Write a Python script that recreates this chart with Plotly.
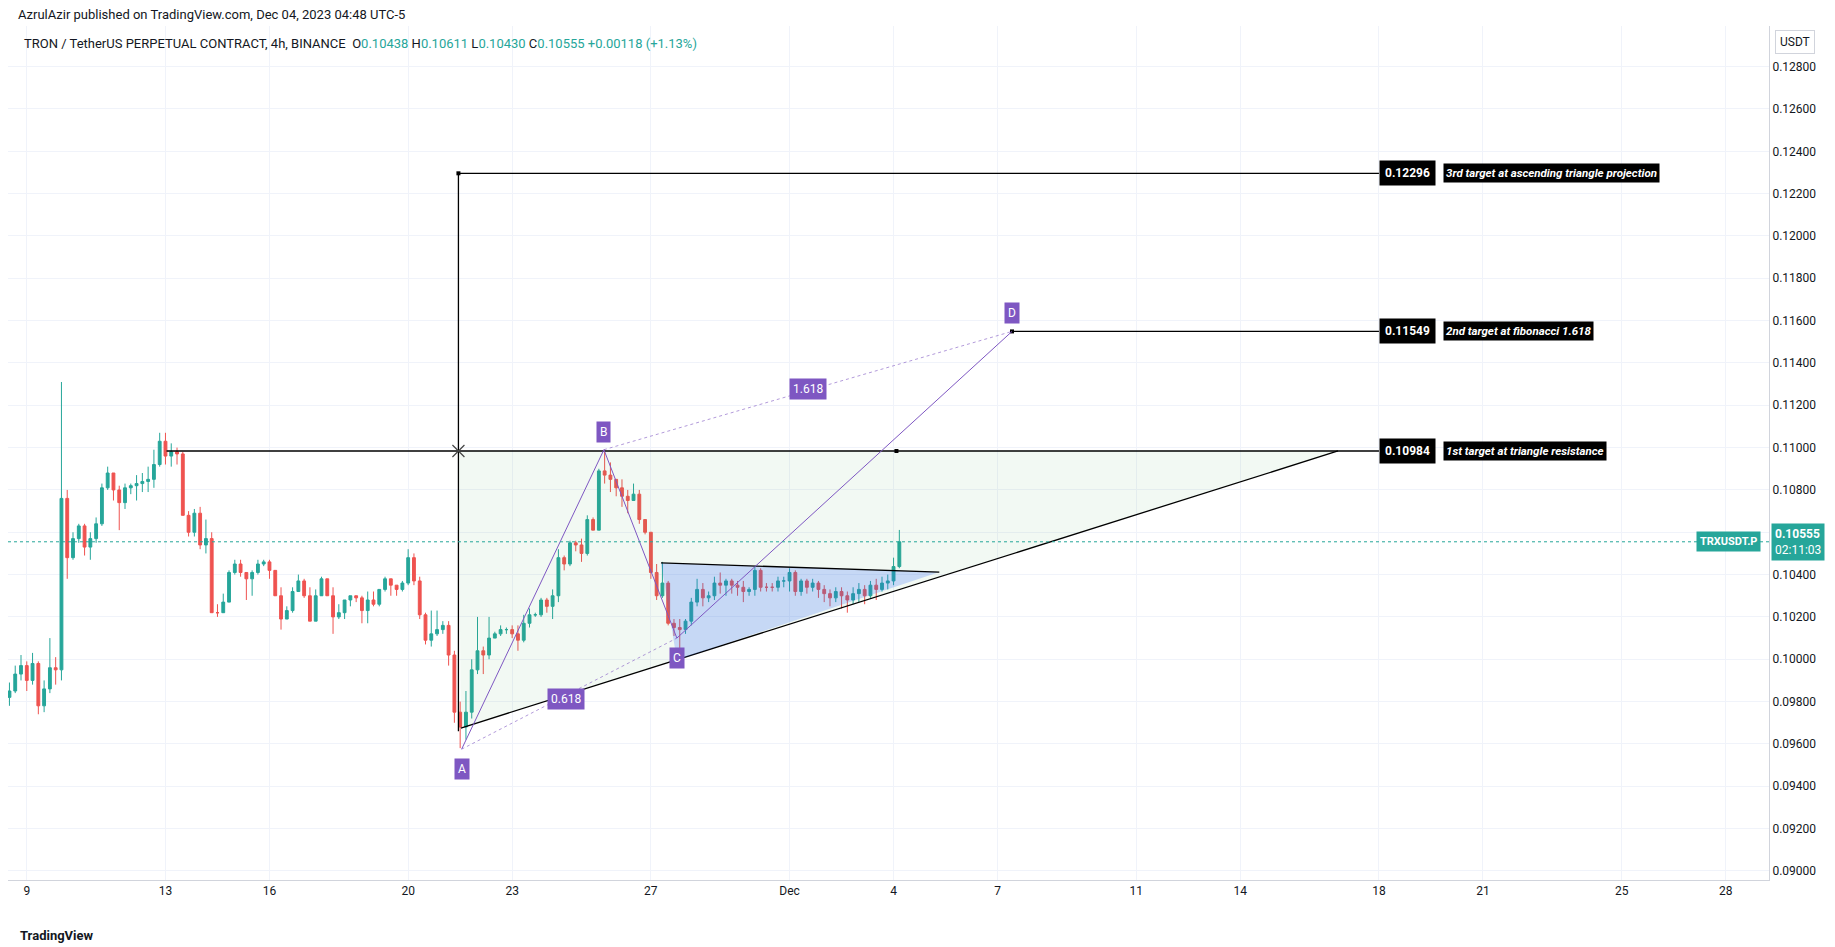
import plotly.graph_objects as go
import pandas as pd

# ---------------- data (4h candles from 2023-11-08 12:00) ----------------
close = [.0985,.0993,.0997,
 .0990,.0998,.0978,.0986,.0996,.0995,
 .1076,.1048,.1057,.1063,.1053,.1057,
 .1064,.1081,.1088,.1080,.1074,.1081,
 .1082,.1083,.1084,.1085,.1092,.1103,
 .1096,.1098,.1097,.1068,.1060,.1069,
 .1054,.1057,.1022,.1022,.1027,.1041,
 .1045,.1041,.1038,.1041,.1045,.1046,
 .1042,.1030,.1019,.1023,.1032,.1037,
 .1030,.1018,.1030,.1038,.1030,.1020,
 .1022,.1028,.1030,.1029,.1023,.1028,
 .1026,.1033,.1038,.1035,.1033,.1036,
 .1048,.1037,.1021,.1009,.1012,.1014,
 .1016,.1002,.0975,.0968,.0975,.0995,
 .1004,.1002,.1010,.1012,.1014,.1014,
 .1012,.1009,.1017,.1021,.1021,.1028,
 .1025,.1030,.1048,.1045,.1055,.1054,
 .1050,.1066,.1061,.1089,.1087,.1085,
 .1081,.1077,.1075,.1078,.1066,.1060,
 .1041,.1030,.1036,.1017,.1015,.1014,
 .1018,.1027,.1033,.1029,.1030,.1036,
 .1035,.1037,.1035,.1034,.1032,.1033,
 .1042,.1034,.1034,.1034,.1037,.1037,
 .1041,.1032,.1037,.1034,.1036,.1033,
 .1031,.1029,.1032,.1030,.1028,.1031,
 .1033,.1030,.1035,.1033,.1036,.1037,
 .10438,.10555]
high = [.0989,.0997,.1002,
 .0999,.1003,.0999,.0990,.1010,.1001,
 .1131,.1080,.1060,.1064,.1064,.1060,
 .1067,.1083,.1091,.1088,.1082,.1083,
 .1083,.1087,.1088,.1091,.1099,.1107,
 .1107,.1102,.1100,.1098,.1070,.1071,
 .1072,.1066,.1060,.1026,.1031,.1042,
 .1047,.1047,.1041,.1042,.1047,.1047,
 .1047,.1042,.1034,.1025,.1034,.1040,
 .1038,.1034,.1033,.1039,.1038,.1034,
 .1026,.1028,.1030,.1030,.1030,.1032,
 .1032,.1033,.1039,.1038,.1035,.1037,
 .1052,.1050,.1039,.1022,.1023,.1023,
 .1018,.1018,.1004,.0980,.0985,.1000,
 .1020,.1006,.1020,.1013,.1016,.1015,
 .1016,.1016,.1021,.1024,.1022,.1029,
 .1029,.1033,.1052,.1049,.1056,.1056,
 .1057,.1068,.1067,.1090,.1099,.1093,
 .1085,.1085,.1080,.1083,.1080,.1066,
 .1060,.1045,.1046,.1037,.1019,.1019,
 .1019,.1029,.1038,.1036,.1032,.1039,
 .1041,.1038,.1038,.1037,.1037,.1034,
 .1044,.1043,.1036,.1036,.1039,.1039,
 .1043,.1042,.1038,.1038,.1038,.1037,
 .1035,.1033,.1034,.1034,.1032,.1034,
 .1036,.1035,.1037,.1038,.1039,.1040,
 .1048,.10611]
low = [.0978,.0984,.0990,
 .0985,.0988,.0974,.0975,.0984,.0988,
 .0990,.1038,.1047,.1055,.1049,.1047,
 .1055,.1063,.1080,.1075,.1061,.1071,
 .1078,.1075,.1079,.1079,.1081,.1091,
 .1092,.1091,.1092,.1068,.1058,.1058,
 .1052,.1050,.1022,.1020,.1025,.1027,
 .1040,.1039,.1028,.1030,.1040,.1044,
 .1038,.1030,.1014,.1020,.1022,.1036,
 .1029,.1018,.1018,.1031,.1030,.1012,
 .1019,.1019,.1025,.1027,.1017,.1017,
 .1025,.1025,.1032,.1030,.1030,.1032,
 .1035,.1035,.1019,.1007,.1006,.1011,
 .1012,.0997,.0970,.0958,.0962,.0972,
 .0993,.0993,.1000,.1010,.1011,.1012,
 .1010,.1004,.1008,.1015,.1020,.1020,
 .1022,.1019,.1027,.1042,.1044,.1051,
 .1046,.1049,.1061,.1061,.1083,.1079,
 .1077,.1072,.1069,.1075,.1064,.1059,
 .1038,.1028,.1029,.1016,.1011,.1005,
 .1012,.1016,.1025,.1025,.1027,.1028,
 .1031,.1030,.1031,.1030,.1027,.1030,
 .1030,.1032,.1032,.1032,.1032,.1034,
 .1032,.1030,.1030,.1031,.1032,.1029,
 .1027,.1025,.1027,.1024,.1022,.1026,
 .1027,.1026,.1029,.1028,.1032,.1033,
 .1035,.10430]
first_open = 0.0982
open_ = [first_open] + close[:-1]
open_[-1] = 0.10438
times = pd.date_range("2023-11-08 12:00", periods=len(close), freq="4h")

last_price = 0.10555
targets = [0.10984, 0.11549, 0.12296]
target_texts = ["1st target at triangle resistance", "2nd target at fibonacci 1.618",
                "3rd target at ascending triangle projection"]

# pattern points
A = ("2023-11-21 13:00", 0.09575)
B = ("2023-11-25 15:30", 0.10990)
C = ("2023-11-27 18:00", 0.10100)
D = ("2023-12-07 10:00", 0.11549)
big_tri_x = ["2023-11-21 10:48", "2023-12-16 19:40", "2023-11-21 12:30"]
big_tri_y = [0.10984, 0.10984, 0.09675]
small_tri_x = ["2023-11-27 07:00", "2023-12-05 07:40", "2023-11-27 18:00"]
small_tri_y = [0.10455, 0.10412, 0.09997]
res_start = "2023-11-13 00:45"
vert_x = "2023-11-21 10:48"
label_x = "2023-12-18 00:00"
label2_x = "2023-12-19 20:00"
mark_x = "2023-12-04 02:00"

GREEN, RED, PURPLE = "#26a69a", "#ef5350", "#7e57c2"
FONT = "Roboto"

fig = go.Figure()
fig.add_trace(go.Scatter(x=big_tri_x + [big_tri_x[0]], y=big_tri_y + [big_tri_y[0]], fill="toself",
                         fillcolor="rgba(76,175,80,0.07)", line=dict(width=0), mode="lines", hoverinfo="skip"))
fig.add_trace(go.Scatter(x=[big_tri_x[2], big_tri_x[1]], y=[big_tri_y[2], big_tri_y[1]],
                         mode="lines", line=dict(color="black", width=1.3), hoverinfo="skip"))
fig.add_trace(go.Scatter(x=small_tri_x + [small_tri_x[0]], y=small_tri_y + [small_tri_y[0]], fill="toself",
                         fillcolor="rgba(41,98,255,0.22)", line=dict(width=0), mode="lines", hoverinfo="skip"))
fig.add_trace(go.Scatter(x=small_tri_x[:2], y=small_tri_y[:2], mode="lines",
                         line=dict(color="black", width=1.3), hoverinfo="skip"))
fig.add_hline(y=last_price, line=dict(color=GREEN, width=1, dash="dot"))

fig.add_trace(go.Candlestick(x=times, open=open_, high=high, low=low, close=close,
                             increasing=dict(line=dict(color=GREEN, width=1), fillcolor=GREEN),
                             decreasing=dict(line=dict(color=RED, width=1), fillcolor=RED),
                             whiskerwidth=0))

fig.add_trace(go.Scatter(x=[res_start, label_x], y=[targets[0]] * 2, mode="lines",
                         line=dict(color="black", width=1.5), hoverinfo="skip"))
fig.add_trace(go.Scatter(x=[D[0], label_x], y=[targets[1]] * 2, mode="lines",
                         line=dict(color="black", width=1.3), hoverinfo="skip"))
fig.add_trace(go.Scatter(x=[vert_x, label_x], y=[targets[2]] * 2, mode="lines",
                         line=dict(color="black", width=1.3), hoverinfo="skip"))
fig.add_trace(go.Scatter(x=[vert_x, vert_x], y=[0.09660, targets[2]], mode="lines",
                         line=dict(color="black", width=1.3), hoverinfo="skip"))
fig.add_trace(go.Scatter(x=[vert_x], y=[targets[0]], mode="markers",
                         marker=dict(symbol="x-thin", size=12, line=dict(color="#444", width=1.2)), hoverinfo="skip"))
fig.add_trace(go.Scatter(x=[mark_x, D[0], vert_x], y=[targets[0], targets[1], targets[2]], mode="markers",
                         marker=dict(symbol="square", size=4, color="black"), hoverinfo="skip"))

fig.add_trace(go.Scatter(x=[A[0], B[0], C[0], D[0]], y=[A[1], B[1], C[1], D[1]], mode="lines",
                         line=dict(color=PURPLE, width=1), hoverinfo="skip"))
fig.add_trace(go.Scatter(x=[A[0], C[0]], y=[A[1], C[1]], mode="lines",
                         line=dict(color="rgba(126,87,194,0.6)", width=1, dash="dot"), hoverinfo="skip"))
fig.add_trace(go.Scatter(x=[B[0], D[0]], y=[B[1], D[1]], mode="lines",
                         line=dict(color="rgba(126,87,194,0.6)", width=1, dash="dot"), hoverinfo="skip"))

def box(x, y, text, yshift, size=12):
    fig.add_annotation(x=x, y=y, text=text, showarrow=False, yshift=yshift, bgcolor=PURPLE,
                       font=dict(color="white", size=size, family=FONT), borderpad=3)

box(A[0], A[1], "A", -20)
box(B[0], B[1], "B", 18)
box(C[0], C[1], "C", -20)
box(D[0], D[1], "D", 18)
box("2023-11-24 13:30", 0.09813, "0.618", 0)
box("2023-12-01 12:45", 0.11279, "1.618", 0)

for t, txt in zip(targets, target_texts):
    fig.add_annotation(x=label_x, y=t, text="<b>%.5f</b>" % t, showarrow=False, xanchor="left",
                       bgcolor="black", font=dict(color="white", size=12, family=FONT), borderpad=5)
    fig.add_annotation(x=label2_x, y=t, text="<b><i>%s</i></b>" % txt, showarrow=False, xanchor="left",
                       bgcolor="black", font=dict(color="white", size=11.5, family=FONT), borderpad=2)

fig.add_annotation(xref="paper", x=1, y=last_price, text="<b>0.10555</b><br>02:11:03", showarrow=False,
                   xanchor="left", xshift=2, bgcolor=GREEN, align="left",
                   font=dict(color="white", size=12, family=FONT), borderpad=3)
fig.add_annotation(xref="paper", x=1, y=last_price, text="<b>TRXUSDT.P</b>", showarrow=False,
                   xanchor="right", xshift=-8, yshift=0, bgcolor=GREEN,
                   font=dict(color="white", size=11, family=FONT), borderpad=3)
fig.add_annotation(xref="paper", yref="paper", x=1, y=1, xanchor="left", yanchor="bottom", xshift=6, yshift=-28,
                   text="USDT", showarrow=False, bordercolor="#d1d4dc", borderwidth=1, borderpad=4,
                   font=dict(color="#131722", size=12, family=FONT))

fig.add_annotation(xref="paper", yref="paper", x=0, y=1, xanchor="left", yanchor="bottom", xshift=8, yshift=2,
                   text="AzrulAzir published on TradingView.com, Dec 04, 2023 04:48 UTC-5", showarrow=False,
                   font=dict(color="#131722", size=13, family=FONT))
hdr = ("TRON / TetherUS PERPETUAL CONTRACT, 4h, BINANCE  "
       "O<span style='color:#26a69a'>0.10438</span> H<span style='color:#26a69a'>0.10611</span> "
       "L<span style='color:#26a69a'>0.10430</span> C<span style='color:#26a69a'>0.10555</span> "
       "<span style='color:#26a69a'>+0.00118 (+1.13%)</span>")
fig.add_annotation(xref="paper", yref="paper", x=0, y=1, xanchor="left", yanchor="top", xshift=14, yshift=-8,
                   text=hdr, showarrow=False, font=dict(color="#131722", size=13, family=FONT))
fig.add_annotation(xref="paper", yref="paper", x=0, y=0, xanchor="left", yanchor="top", xshift=10, yshift=-46,
                   text="<b>TradingView</b>", showarrow=False, font=dict(color="#131722", size=13, family=FONT))

tickvals = ["2023-11-09", "2023-11-13", "2023-11-16", "2023-11-20", "2023-11-23", "2023-11-27", "2023-12-01",
            "2023-12-04", "2023-12-07", "2023-12-11", "2023-12-14", "2023-12-18", "2023-12-21", "2023-12-25",
            "2023-12-28"]
ticktext = ["9", "13", "16", "20", "23", "27", "Dec", "4", "7", "11", "14", "18", "21", "25", "28"]
yticks = [0.090 + 0.002 * i for i in range(20)]

fig.update_layout(
    width=1835, height=947, margin=dict(l=0, r=74, t=18, b=75),
    paper_bgcolor="white", plot_bgcolor="white", showlegend=False,
    font=dict(family=FONT, color="#131722"),
    xaxis=dict(type="date", range=["2023-11-08 11:00", "2023-12-29 06:00"], rangeslider=dict(visible=False),
               tickvals=tickvals, ticktext=ticktext, showgrid=True, gridcolor="#f0f3fa",
               showline=True, linecolor="#d1d4dc", tickfont=dict(size=12), ticks="", zeroline=False),
    yaxis=dict(side="right", range=[0.08957, 0.12992], tickvals=yticks,
               ticktext=["%.5f" % v for v in yticks], showgrid=True, gridcolor="#f0f3fa",
               showline=True, linecolor="#d1d4dc", tickfont=dict(size=12), ticks="", zeroline=False),
)
fig.write_html("out.html")
